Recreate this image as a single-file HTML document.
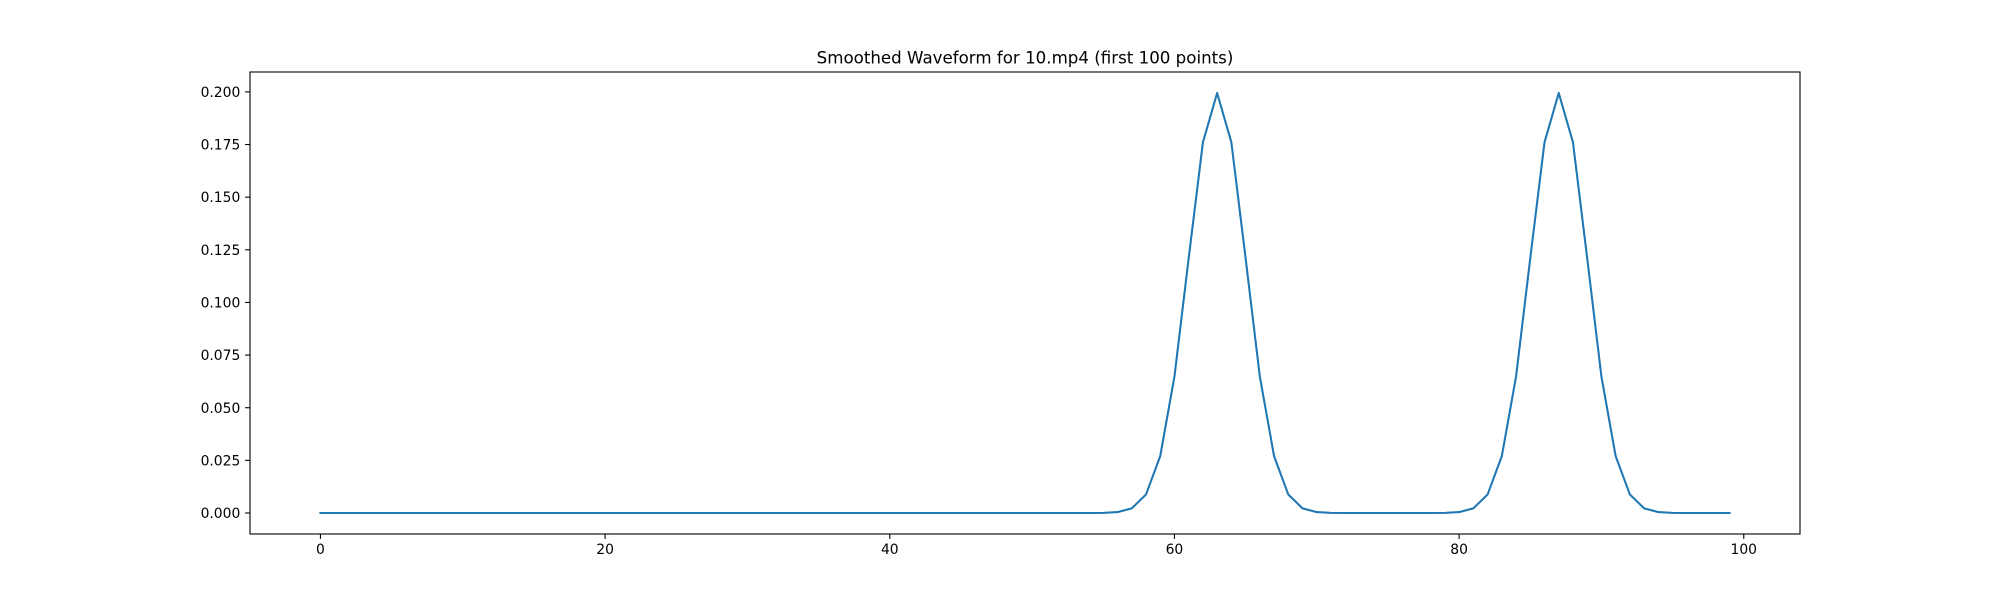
<!DOCTYPE html>
<html><head><meta charset="utf-8"><style>
html,body{margin:0;padding:0;background:#fff;}
svg{display:block;}
text{font-family:"DejaVu Sans","Liberation Sans",sans-serif;fill:#000;}
</style></head><body>
<svg width="2000" height="600" viewBox="0 0 2000 600" xmlns="http://www.w3.org/2000/svg">
<rect x="0" y="0" width="2000" height="600" fill="#fff"/>
<polyline fill="none" stroke="#1f77b4" stroke-width="2.08" stroke-linejoin="round" stroke-linecap="square" points="
320.45,513.0 1074.81,513.0 1089.04,512.98 1103.28,512.86 1117.51,512.08 1131.74,508.33 1145.98,494.55 1160.21,456.16 1174.44,376.65 1188.68,258.26 1202.91,142.35 1217.14,93.0 1231.37,142.35 1245.61,258.26 1259.84,376.65 1274.07,456.16 1288.31,494.55 1302.54,508.33 1316.77,512.08 1331.01,512.86 1345.24,512.98 1359.47,513.0 1416.40,513.0 1430.64,512.98 1444.87,512.86 1459.11,512.08 1473.34,508.33 1487.57,494.55 1501.81,456.16 1516.04,376.65 1530.27,258.26 1544.50,142.35 1558.74,93.0 1572.97,142.35 1587.20,258.26 1601.44,376.65 1615.67,456.16 1629.90,494.55 1644.14,508.33 1658.37,512.08 1672.60,512.86 1686.84,512.98 1701.07,513.0 1729.54,513.0"/>
<rect x="250" y="72" width="1550" height="462" fill="none" stroke="#000" stroke-width="1.1"/>
<g stroke="#000" stroke-width="1.1">
<line x1="320.45" y1="534" x2="320.45" y2="538.9"/>
<line x1="605.11" y1="534" x2="605.11" y2="538.9"/>
<line x1="889.78" y1="534" x2="889.78" y2="538.9"/>
<line x1="1174.44" y1="534" x2="1174.44" y2="538.9"/>
<line x1="1459.11" y1="534" x2="1459.11" y2="538.9"/>
<line x1="1743.77" y1="534" x2="1743.77" y2="538.9"/>
<line x1="245.1" y1="513.0" x2="250" y2="513.0"/>
<line x1="245.1" y1="460.36" x2="250" y2="460.36"/>
<line x1="245.1" y1="407.72" x2="250" y2="407.72"/>
<line x1="245.1" y1="355.08" x2="250" y2="355.08"/>
<line x1="245.1" y1="302.44" x2="250" y2="302.44"/>
<line x1="245.1" y1="249.81" x2="250" y2="249.81"/>
<line x1="245.1" y1="197.17" x2="250" y2="197.17"/>
<line x1="245.1" y1="144.53" x2="250" y2="144.53"/>
<line x1="245.1" y1="91.89" x2="250" y2="91.89"/>
</g>
<g font-size="13.89" text-anchor="middle">
<text x="320.45" y="553.8">0</text>
<text x="605.11" y="553.8">20</text>
<text x="889.78" y="553.8">40</text>
<text x="1174.44" y="553.8">60</text>
<text x="1459.11" y="553.8">80</text>
<text x="1743.77" y="553.8">100</text>
</g>
<g font-size="13.89" text-anchor="end">
<text x="240.3" y="518.05">0.000</text>
<text x="240.3" y="465.41">0.025</text>
<text x="240.3" y="412.77">0.050</text>
<text x="240.3" y="360.13">0.075</text>
<text x="240.3" y="307.49">0.100</text>
<text x="240.3" y="254.86">0.125</text>
<text x="240.3" y="202.22">0.150</text>
<text x="240.3" y="149.58">0.175</text>
<text x="240.3" y="96.94">0.200</text>
</g>
<text x="1025" y="63.7" font-size="16.67" text-anchor="middle">Smoothed Waveform for 10.mp4 (first 100 points)</text>
</svg>
</body></html>
